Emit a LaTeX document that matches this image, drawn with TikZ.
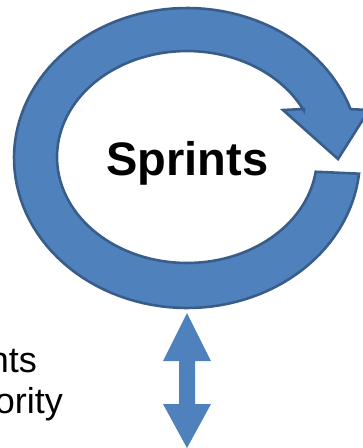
\documentclass[tikz,border=0pt]{standalone}
\usepackage{fontspec}
\setmainfont{Liberation Sans}
\definecolor{ringfill}{HTML}{4F81BD}
\definecolor{ringline}{HTML}{385D8A}
\begin{document}
\begin{tikzpicture}[x=1pt,y=-1pt,
  ringstyle/.style={fill=ringfill,draw=ringline,line width=2.6pt,line join=miter},
  dblarrow/.style={fill=ringfill,draw=none},
  bigtext/.style={font=\fontsize{47}{50}\selectfont\bfseries,inner sep=0pt},
  sidetext/.style={font=\fontsize{36}{40}\selectfont,inner sep=0pt}]
\useasboundingbox (0,0) rectangle (363,448);
\clip (0,0) rectangle (363,448);
% circular arrow
\draw[ringstyle]
  plot[domain=6:341,samples=120] ({187+173*cos(\x)},{158+150*sin(\x)})
  -- (369,110) -- (338,159) -- (283,110) -- (304,109)
  -- plot[domain=334:8,samples=120] ({187+130*cos(\x)},{157+106*sin(\x)})
  -- cycle;
% double arrow
\fill[dblarrow] (187,313) -- (211,361) -- (195,361) -- (195,404) -- (211,404)
  -- (187,448) -- (163,404) -- (179,404) -- (179,361) -- (163,361) -- cycle;
% texts
\node[bigtext,anchor=base] (sprints) at (187.5,175) {Sprints};
\node[sidetext,anchor=base east] (t1) at (37,372) {nts};
\node[sidetext,anchor=base east] (t2) at (63,413) {ority};
\end{tikzpicture}
\end{document}
